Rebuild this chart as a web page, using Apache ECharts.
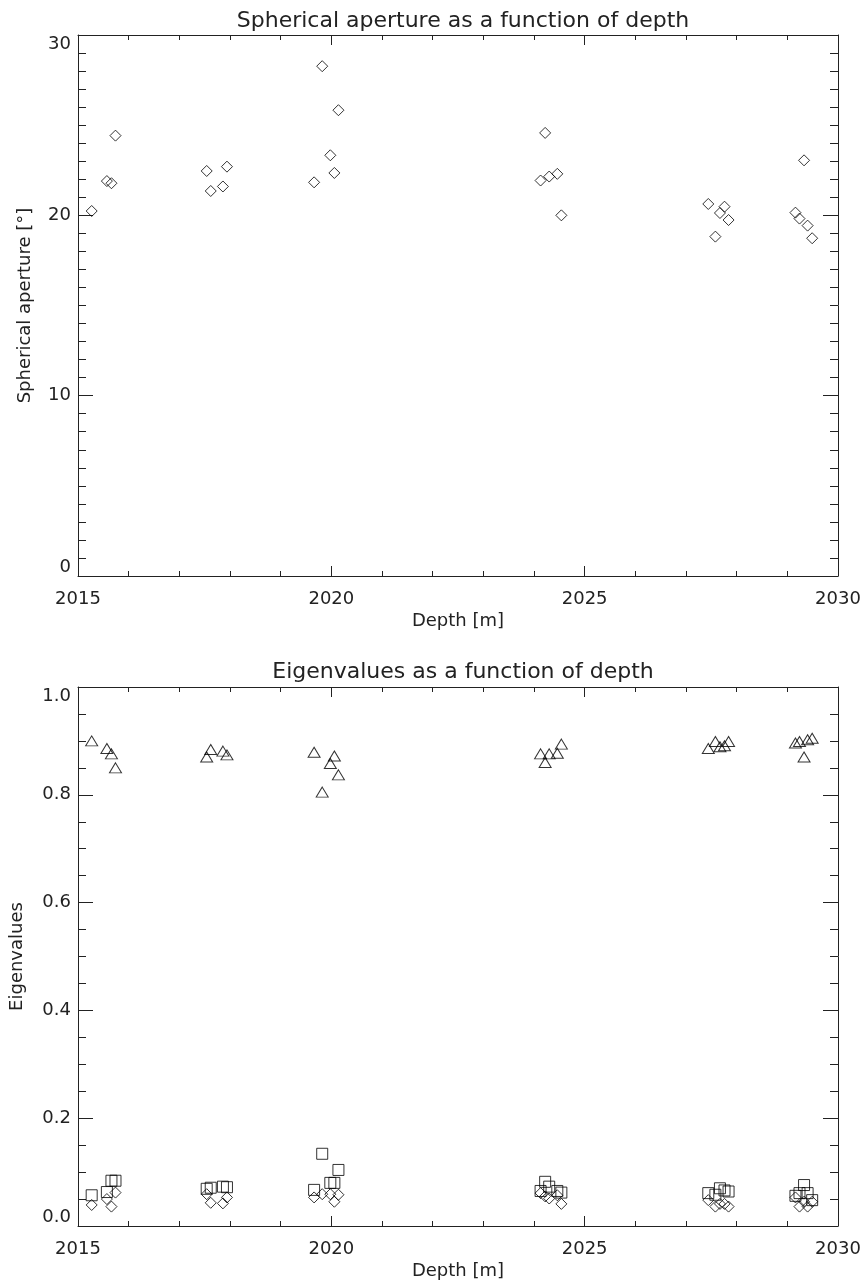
<!DOCTYPE html>
<html>
<head>
<meta charset="utf-8">
<script src="https://cdn.jsdelivr.net/npm/echarts@6/dist/echarts.min.js"></script>
<style>
html,body{margin:0;padding:0;background:#fff;}
#chart{width:866px;height:1287px;}
</style>
</head>
<body>
<div id="chart"></div>
<script>
// Data
const depth = [2015.27, 2015.57, 2015.66, 2015.74, 2017.54, 2017.62, 2017.86, 2017.94,
  2019.66, 2019.82, 2019.98, 2020.06, 2020.14, 2024.13, 2024.22, 2024.30, 2024.46, 2024.54,
  2027.44, 2027.58, 2027.67, 2027.76, 2027.84, 2029.16, 2029.24, 2029.33, 2029.40, 2029.49];
const aperture = [20.24, 21.90, 21.78, 24.42, 22.46, 21.35, 21.60, 22.70,
  21.83, 28.27, 23.33, 22.35, 25.83, 21.93, 24.57, 22.15, 22.30, 20.00,
  20.63, 18.82, 20.13, 20.48, 19.74, 20.15, 19.82, 23.05, 19.43, 18.73];
const eig1 = [0.900, 0.886, 0.876, 0.850, 0.870, 0.884, 0.881, 0.874,
  0.879, 0.805, 0.858, 0.872, 0.837, 0.876, 0.860, 0.876, 0.877, 0.894,
  0.886, 0.899, 0.889, 0.891, 0.899, 0.896, 0.899, 0.870, 0.902, 0.905];
const eig2 = [0.057, 0.063, 0.084, 0.084, 0.069, 0.071, 0.073, 0.072,
  0.067, 0.134, 0.080, 0.080, 0.104, 0.065, 0.082, 0.073, 0.065, 0.062,
  0.061, 0.058, 0.070, 0.066, 0.064, 0.056, 0.061, 0.076, 0.061, 0.048];
const eig3 = [0.039, 0.050, 0.036, 0.062, 0.059, 0.043, 0.042, 0.053,
  0.053, 0.059, 0.059, 0.045, 0.058, 0.061, 0.055, 0.051, 0.057, 0.041,
  0.048, 0.036, 0.041, 0.041, 0.036, 0.053, 0.036, 0.045, 0.036, 0.045];

const titles = ['Spherical aperture as a function of depth', 'Eigenvalues as a function of depth'];
const xName = 'Depth [m]';
const yNames = ['Spherical aperture [°]', 'Eigenvalues'];

const FONT = 'DejaVu Sans';
const TXT = '#222';
const AX = '#222';

function pair(ys) { return depth.map((d, i) => [d, ys[i]]); }

function xAx(grid, pos, show) {
  return {
    type: 'value', gridIndex: grid, position: pos, min: 2015, max: 2030, interval: 5,
    axisLine: { show: true, onZero: false, lineStyle: { color: AX, width: 1 } },
    axisTick: { show: true, inside: true, length: 10, lineStyle: { color: AX } },
    minorTick: { show: true, splitNumber: 5, length: 5, lineStyle: { color: AX } },
    splitLine: { show: false },
    axisLabel: { show: show, margin: 14, color: TXT, fontFamily: FONT, fontSize: 18,
      formatter: v => String(v) },
    name: show ? xName : '', nameLocation: 'middle', nameGap: 36,
    nameTextStyle: { color: TXT, fontFamily: FONT, fontSize: 18 }
  };
}
function yAx(grid, pos, show, max, interval, minorSplit, nameGap, fmt) {
  return {
    type: 'value', gridIndex: grid, position: pos, min: 0, max: max, interval: interval,
    axisLine: { show: true, onZero: false, lineStyle: { color: AX, width: 1 } },
    axisTick: { show: true, inside: true, length: 15, lineStyle: { color: AX } },
    minorTick: { show: true, splitNumber: minorSplit, length: 8, lineStyle: { color: AX } },
    splitLine: { show: false },
    axisLabel: { show: show, margin: 7, color: TXT, fontFamily: FONT, fontSize: 18,
      formatter: fmt, verticalAlignMinLabel: 'bottom', verticalAlignMaxLabel: 'top' },
    name: show ? yNames[grid] : '', nameLocation: 'middle', nameGap: nameGap, nameRotate: 90,
    nameTextStyle: { color: TXT, fontFamily: FONT, fontSize: 18 }
  };
}

const mk = { color: 'rgba(0,0,0,0)', borderColor: '#000', borderWidth: 1 };

const chart = echarts.init(document.getElementById('chart'), null, { renderer: 'canvas' });
chart.setOption({
  animation: false,
  backgroundColor: '#fff',
  title: [
    { text: titles[0], left: 458, textAlign: 'center', top: 5,
      textStyle: { color: TXT, fontFamily: FONT, fontSize: 22, fontWeight: 'normal' } },
    { text: titles[1], left: 458, textAlign: 'center', top: 656,
      textStyle: { color: TXT, fontFamily: FONT, fontSize: 22, fontWeight: 'normal' } }
  ],
  grid: [
    { left: 78, top: 35, width: 760, height: 541 },
    { left: 78, top: 687, width: 760, height: 539 }
  ],
  xAxis: [xAx(0, 'bottom', true), xAx(0, 'top', false), xAx(1, 'bottom', true), xAx(1, 'top', false)],
  yAxis: [
    yAx(0, 'left', true, 30, 10, 10, 44, v => String(v)),
    yAx(0, 'right', false, 30, 10, 10, 0, v => String(v)),
    yAx(1, 'left', true, 1, 0.2, 4, 52, v => v.toFixed(1)),
    yAx(1, 'right', false, 1, 0.2, 4, 0, v => v.toFixed(1))
  ],
  series: [
    { type: 'scatter', xAxisIndex: 0, yAxisIndex: 0, data: pair(aperture),
      symbol: 'diamond', symbolSize: 11, itemStyle: mk },
    { type: 'scatter', xAxisIndex: 2, yAxisIndex: 2, data: pair(eig1),
      symbol: 'triangle', symbolSize: [12, 10], itemStyle: mk },
    { type: 'scatter', xAxisIndex: 2, yAxisIndex: 2, data: pair(eig2),
      symbol: 'rect', symbolSize: 11, itemStyle: mk },
    { type: 'scatter', xAxisIndex: 2, yAxisIndex: 2, data: pair(eig3),
      symbol: 'diamond', symbolSize: 11, itemStyle: mk }
  ]
});
</script>
</body>
</html>
